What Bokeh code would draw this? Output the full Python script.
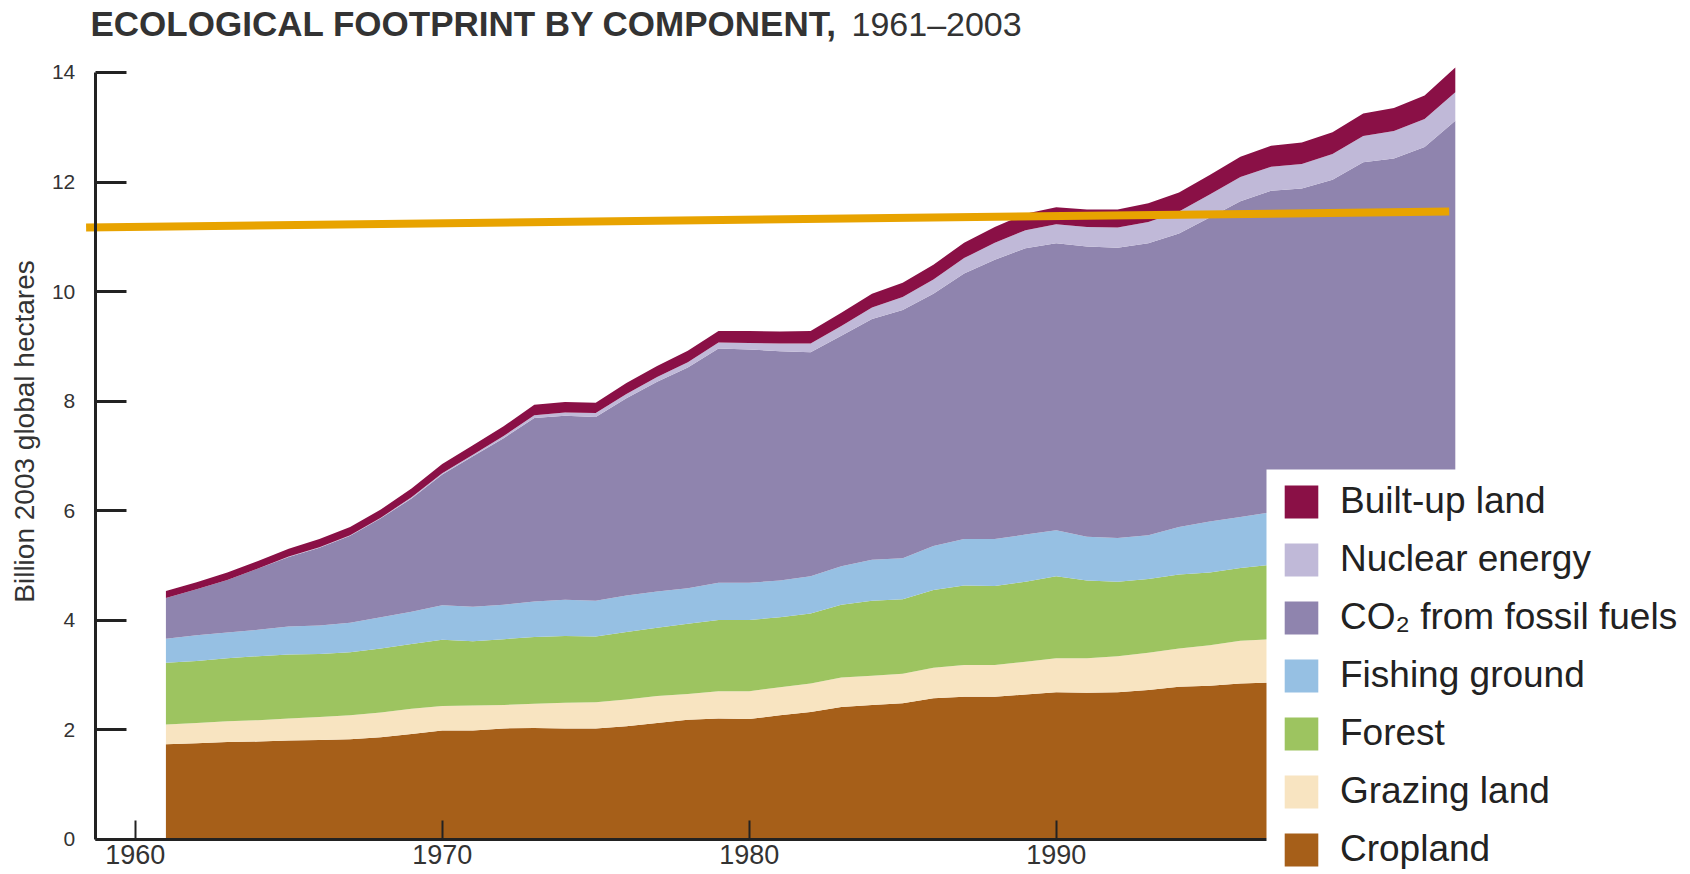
import math
from bokeh.plotting import figure
from bokeh.models import (ColumnDataSource, Legend, LegendItem, Label, Range1d,
                          FixedTicker, BoxAnnotation)
from bokeh.embed import file_html
from bokeh.resources import INLINE

# ---------------- data (billion 2003 global hectares) ----------------
years = list(range(1961, 2004))

cropland = [1.73, 1.75, 1.77, 1.78, 1.80, 1.81, 1.82, 1.86, 1.92, 1.98,
            1.98, 2.02, 2.03, 2.02, 2.02, 2.06, 2.12, 2.18, 2.20, 2.19,
            2.26, 2.32, 2.41, 2.45, 2.48, 2.57, 2.60, 2.60, 2.64, 2.68,
            2.67, 2.68, 2.72, 2.78, 2.80, 2.84, 2.86, 2.87, 2.90, 2.92,
            2.94, 2.96, 2.99]
grazing = [0.36, 0.37, 0.38, 0.39, 0.40, 0.42, 0.44, 0.45, 0.46, 0.45,
           0.46, 0.43, 0.44, 0.47, 0.48, 0.49, 0.49, 0.47, 0.50, 0.51,
           0.51, 0.52, 0.54, 0.53, 0.54, 0.56, 0.58, 0.58, 0.60, 0.62,
           0.63, 0.66, 0.68, 0.70, 0.74, 0.78, 0.79, 0.80, 0.80, 0.81,
           0.81, 0.82, 0.83]
forest = [1.13, 1.13, 1.15, 1.17, 1.17, 1.15, 1.15, 1.17, 1.18, 1.21,
          1.17, 1.20, 1.22, 1.22, 1.20, 1.23, 1.25, 1.28, 1.30, 1.30,
          1.28, 1.28, 1.33, 1.37, 1.36, 1.42, 1.45, 1.44, 1.46, 1.50,
          1.42, 1.36, 1.35, 1.35, 1.33, 1.33, 1.36, 1.33, 1.35, 1.37,
          1.33, 1.34, 1.36]
fishing = [0.44, 0.47, 0.47, 0.48, 0.51, 0.52, 0.54, 0.57, 0.59, 0.63,
           0.63, 0.63, 0.65, 0.66, 0.65, 0.67, 0.66, 0.65, 0.68, 0.68,
           0.67, 0.68, 0.70, 0.75, 0.75, 0.80, 0.85, 0.86, 0.86, 0.84,
           0.80, 0.80, 0.80, 0.87, 0.93, 0.93, 0.96, 0.98, 1.00, 1.05,
           1.07, 1.10, 1.12]
co2 = [0.74, 0.84, 0.96, 1.12, 1.27, 1.42, 1.59, 1.81, 2.07, 2.39,
       2.75, 3.04, 3.35, 3.36, 3.36, 3.60, 3.83, 4.03, 4.28, 4.26,
       4.19, 4.09, 4.21, 4.40, 4.53, 4.61, 4.85, 5.10, 5.23, 5.24,
       5.30, 5.30, 5.33, 5.36, 5.55, 5.77, 5.87, 5.90, 5.99, 6.21,
       6.28, 6.42, 6.82]
nuclear = [0.00, 0.00, 0.00, 0.00, 0.01, 0.01, 0.01, 0.01, 0.02, 0.02,
           0.03, 0.04, 0.05, 0.06, 0.07, 0.08, 0.09, 0.10, 0.11, 0.12,
           0.14, 0.16, 0.18, 0.21, 0.24, 0.26, 0.28, 0.31, 0.33, 0.35,
           0.36, 0.37, 0.39, 0.40, 0.42, 0.44, 0.44, 0.45, 0.47, 0.48,
           0.50, 0.51, 0.52]
builtup = [0.13, 0.13, 0.14, 0.14, 0.14, 0.15, 0.15, 0.15, 0.16, 0.17,
           0.17, 0.18, 0.19, 0.19, 0.19, 0.20, 0.20, 0.21, 0.21, 0.22,
           0.22, 0.23, 0.24, 0.25, 0.26, 0.27, 0.28, 0.29, 0.30, 0.31,
           0.32, 0.33, 0.34, 0.35, 0.36, 0.37, 0.38, 0.39, 0.40, 0.41,
           0.42, 0.43, 0.45]

# biocapacity line (start / end)
biocap_years = [1958.4, 2002.8]
biocap = [11.17, 11.46]

layer_keys = ["cropland", "grazing", "forest", "fishing", "co2", "nuclear", "builtup"]
layer_labels = ["Cropland", "Grazing land", "Forest", "Fishing ground",
                "CO\u2082 from fossil fuels", "Nuclear energy", "Built-up land"]
layer_colors = ["#A65F19", "#F8E4C1", "#9DC460", "#96C0E3", "#8F84AE", "#C0B9D8", "#8A1046"]

y_ticks = [0, 2, 4, 6, 8, 10, 12, 14]
x_ticks = [1960, 1970, 1980, 1990, 2000]

title_bold = "ECOLOGICAL FOOTPRINT BY COMPONENT,"
title_years = "1961\u20132003"
y_title = "Billion 2003 global hectares"

# ---------------- figure ----------------
W, H = 1690, 874
FONT = "Liberation Sans"
p = figure(width=W, height=H, output_backend="svg", toolbar_location=None,
           x_range=Range1d(1955.612, 2010.661), y_range=Range1d(-0.648, 15.315),
           min_border_left=0, min_border_right=0, min_border_top=0,
           min_border_bottom=0, background_fill_color="white",
           border_fill_color="white")
p.outline_line_color = None
p.grid.visible = False

source = ColumnDataSource(dict(year=years, cropland=cropland, grazing=grazing,
                               forest=forest, fishing=fishing, co2=co2,
                               nuclear=nuclear, builtup=builtup))
areas = p.varea_stack(stackers=layer_keys, x="year", color=layer_colors, source=source)

p.line(biocap_years, biocap, line_color="#E8A300", line_width=8, line_cap="butt")

# axes (drawn at fixed data locations inside the frame)
AX = "#222222"
xa = p.xaxis[0]
xa.fixed_location = 0
xa.ticker = FixedTicker(ticks=x_ticks)
xa.bounds = (1958.7, 2005)
xa.axis_line_width = 3
xa.axis_line_color = AX
xa.major_tick_in = 19
xa.major_tick_out = 0
xa.major_tick_line_width = 2
xa.major_tick_line_color = AX
xa.minor_tick_line_color = None
xa.major_label_text_font = FONT
xa.major_label_text_font_size = "27px"
xa.major_label_text_color = "#333333"
xa.major_label_standoff = 6

ya = p.yaxis[0]
ya.fixed_location = 1958.7
ya.ticker = FixedTicker(ticks=y_ticks)
ya.bounds = (0, 14)
ya.axis_line_width = 3
ya.axis_line_color = AX
ya.major_tick_in = 31
ya.major_tick_out = 0
ya.major_tick_line_width = 3
ya.major_tick_line_color = AX
ya.minor_tick_line_color = None
ya.major_label_text_font = FONT
ya.major_label_text_font_size = "21px"
ya.major_label_text_color = "#333333"
ya.major_label_standoff = 20

# white panel behind the legend
p.add_layout(BoxAnnotation(left=1266, right=W + 10, top=H - 469, bottom=-10,
                           left_units="screen", right_units="screen",
                           top_units="screen", bottom_units="screen",
                           fill_color="white", fill_alpha=1.0, line_color=None))

# legend
items = [LegendItem(label=layer_labels[i], renderers=[areas[i]])
         for i in reversed(range(len(layer_keys)))]
legend = Legend(items=items, location=(1280, 4), orientation="vertical",
                glyph_width=42, glyph_height=41, label_standoff=18, spacing=16,
                padding=14, margin=0, label_height=41,
                label_text_font=FONT, label_text_font_size="37px",
                label_text_color="#222222", label_text_baseline="middle",
                background_fill_color="white", background_fill_alpha=1.0,
                border_line_color=None)
p.add_layout(legend)

# titles (real text)
p.add_layout(Label(x=90, y=H - 23.2, x_units="screen", y_units="screen", text=title_bold,
                   text_font=FONT, text_font_style="bold", text_font_size="35px",
                   text_color="#333333", text_baseline="middle"))
p.add_layout(Label(x=851, y=H - 23.2, x_units="screen", y_units="screen", text=title_years,
                   text_font=FONT, text_font_size="34px",
                   text_color="#333333", text_baseline="middle"))
p.add_layout(Label(x=24, y=H - 431, x_units="screen", y_units="screen", text=y_title,
                   angle=math.pi / 2, text_align="center", text_baseline="middle",
                   text_font=FONT, text_font_size="28px", text_color="#333333"))

open("out.html", "w").write(file_html(p, INLINE))
